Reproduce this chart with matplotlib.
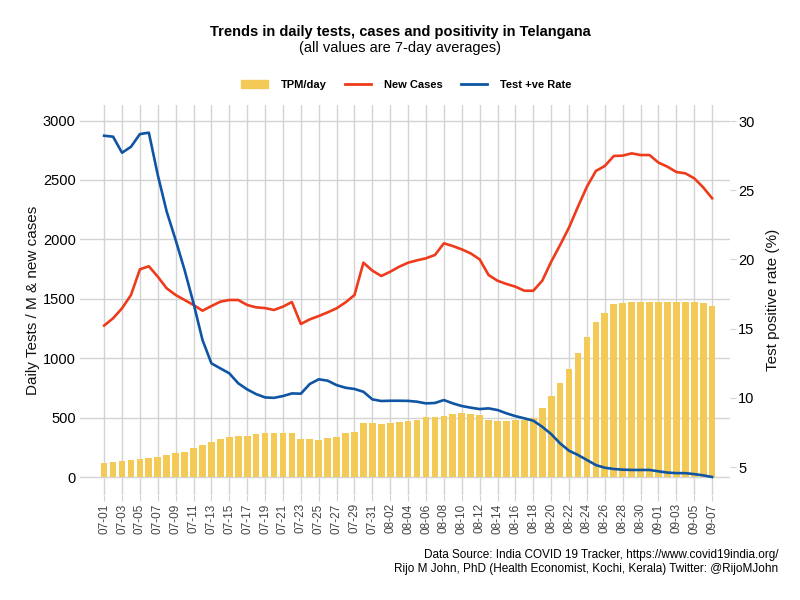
import matplotlib
matplotlib.use("Agg")
import matplotlib.pyplot as plt
import matplotlib.patches as mpatches
from matplotlib.lines import Line2D
import pandas as pd

plt.rcParams['font.family'] = ['Liberation Sans', 'DejaVu Sans']

# 7-day averages, 2020-07-01 .. 2020-09-07
dates = pd.date_range("2020-07-01", "2020-09-07", freq="D")
tick_labels = [d.strftime("%m-%d") for d in dates]

tpm = [115, 123, 135, 143, 154, 157, 168, 185, 199, 213,
       247, 269, 297, 317, 334, 345, 345, 359, 370, 370,
       370, 373, 323, 317, 314, 325, 339, 367, 380, 457,
       457, 446, 457, 460, 468, 477, 502, 505, 516, 527,
       536, 527, 519, 480, 469, 474, 480, 480, 494, 583,
       685, 788, 912, 1047, 1178, 1305, 1380, 1453, 1462, 1473,
       1473, 1473, 1473, 1473, 1473, 1473, 1473, 1462, 1437]

new_cases = [1275, 1336, 1420, 1532, 1748, 1774, 1686, 1588, 1532, 1490,
             1448, 1400, 1439, 1476, 1490, 1490, 1448, 1428, 1422, 1406,
             1434, 1473, 1288, 1327, 1355, 1386, 1420, 1470, 1532, 1804,
             1737, 1692, 1728, 1770, 1804, 1824, 1841, 1869, 1967, 1944,
             1916, 1882, 1832, 1700, 1652, 1625, 1602, 1568, 1568, 1652,
             1812, 1953, 2101, 2276, 2444, 2576, 2618, 2702, 2705, 2724,
             2710, 2710, 2646, 2612, 2567, 2556, 2514, 2438, 2346]

tpr = [28.94, 28.87, 27.71, 28.14, 29.06, 29.16, 26.10, 23.45, 21.40, 19.23,
       16.83, 14.18, 12.49, 12.13, 11.77, 11.05, 10.61, 10.27, 10.03, 10.00,
       10.13, 10.32, 10.30, 11.00, 11.34, 11.24, 10.92, 10.73, 10.64, 10.44,
       9.89, 9.77, 9.79, 9.79, 9.78, 9.72, 9.60, 9.63, 9.84, 9.60,
       9.41, 9.29, 9.19, 9.24, 9.12, 8.88, 8.68, 8.52, 8.35, 7.91,
       7.38, 6.71, 6.18, 5.87, 5.51, 5.14, 4.95, 4.86, 4.81, 4.79,
       4.79, 4.79, 4.69, 4.60, 4.56, 4.56, 4.49, 4.40, 4.28]

bar_color = '#F4CA57'
red = '#EE3B1C'
blue = '#0F55A4'
grid_color = '#D3D3D3'

x = list(range(len(dates)))

fig = plt.figure(figsize=(8, 6), dpi=100)
ax = fig.add_axes([0.1, 0.175, 0.8125, 0.65])
ax2 = ax.twinx()

ax.set_axisbelow(True)
ax.bar(x, tpm, width=0.75, color=bar_color, zorder=2)
ax.plot(x, new_cases, color=red, lw=1.9, zorder=3)
ax2.plot(x, tpr, color=blue, lw=1.9, zorder=3)

ax.set_xlim(-2.7, 70)
ax.set_ylim(-151, 3131)
ax2.set_ylim(2.98, 31.16)

ax.set_xticks(x[::2])
ax.set_xticklabels(tick_labels[::2], rotation=90, fontsize=8.5, color='#444444')
ax.set_yticks([0, 500, 1000, 1500, 2000, 2500, 3000])
ax.tick_params(axis='y', length=0, labelsize=10.5, pad=3)
ax.tick_params(axis='x', length=4, color=grid_color, pad=2)
ax2.set_yticks([5, 10, 15, 20, 25, 30])
ax2.tick_params(axis='y', length=4, color=grid_color, labelsize=10.5, pad=2)

ax.grid(True, color=grid_color, linewidth=1.0)
for a in (ax, ax2):
    for s in a.spines.values():
        s.set_visible(False)

ax.set_ylabel("Daily Tests / M & new cases", fontsize=11, color='#111111')
ax2.set_ylabel("Test positive rate (%)", fontsize=11, color='#111111')
ax.yaxis.set_label_coords(-0.062, 0.5)
ax2.yaxis.set_label_coords(1.055, 0.5)

fig.text(0.5, 0.947, "Trends in daily tests, cases and positivity in Telangana",
         ha='center', va='center', fontsize=10.5, fontweight='bold')
fig.text(0.5, 0.92, "(all values are 7-day averages)",
         ha='center', va='center', fontsize=10.5)

handles = [mpatches.Patch(color=bar_color),
           Line2D([0], [0], color=red, lw=2),
           Line2D([0], [0], color=blue, lw=2)]
fig.legend(handles, ["TPM/day", "New Cases", "Test +ve Rate"],
           loc='center', bbox_to_anchor=(0.508, 0.858), ncol=3, frameon=False,
           prop={'size': 8, 'weight': 'bold'}, handlelength=2.4,
           handletextpad=1.15, columnspacing=1.6)

fig.text(0.9725, 0.075, "Data Source: India COVID 19 Tracker, https://www.covid19india.org/",
         ha='right', va='center', fontsize=8.5)
fig.text(0.9725, 0.052, "Rijo M John, PhD (Health Economist, Kochi, Kerala) Twitter: @RijoMJohn",
         ha='right', va='center', fontsize=8.5)

fig.savefig("out.png", dpi=100)
